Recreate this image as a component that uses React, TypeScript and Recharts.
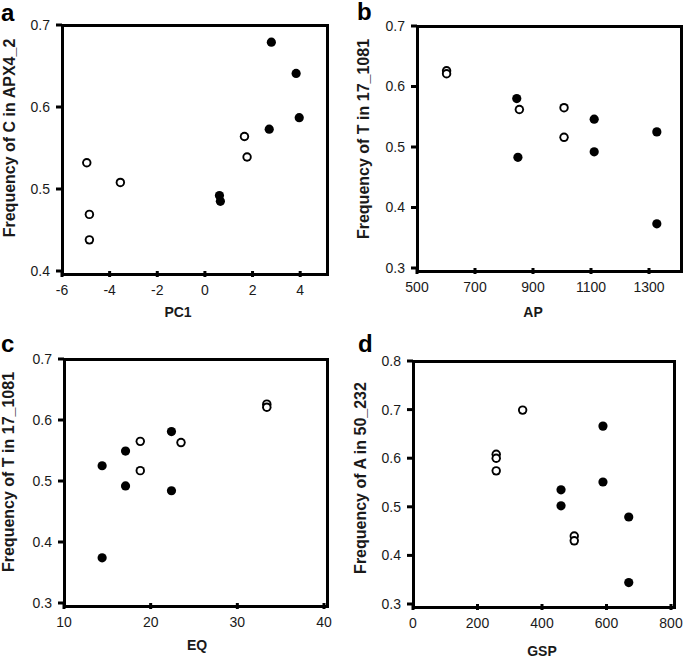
import React from "react";
import { ScatterChart, Scatter, XAxis, YAxis } from "recharts";

// ---------- data ----------
// Panel a: PC1 vs Frequency of C in APX4_2
const aOpenX = [-4.96, -4.85, -4.85, -3.55, 1.66, 1.77];
const aOpenY = [0.532, 0.469, 0.438, 0.508, 0.564, 0.539];
const aFilledX = [0.61, 0.65, 2.79, 3.83, 2.7, 3.96];
const aFilledY = [0.492, 0.485, 0.679, 0.641, 0.573, 0.587];
const aXTicks = [-6, -4, -2, 0, 2, 4];
const aYTicks = [0.4, 0.5, 0.6, 0.7];

// Panel b: AP vs Frequency of T in 17_1081
const bOpenX = [602, 602, 853, 1007, 1007];
const bOpenY = [0.626, 0.621, 0.562, 0.565, 0.516];
const bFilledX = [844, 848, 1111, 1111, 1327, 1327];
const bFilledY = [0.58, 0.483, 0.546, 0.492, 0.525, 0.373];
const bXTicks = [500, 700, 900, 1100, 1300];
const bYTicks = [0.3, 0.4, 0.5, 0.6, 0.7];

// Panel c: EQ vs Frequency of T in 17_1081
const cOpenX = [33.4, 33.4, 18.8, 18.8, 23.5];
const cOpenY = [0.626, 0.621, 0.565, 0.517, 0.563];
const cFilledX = [14.4, 14.4, 17.1, 17.1, 22.4, 22.4];
const cFilledY = [0.525, 0.374, 0.549, 0.492, 0.581, 0.484];
const cXTicks = [10, 20, 30, 40];
const cYTicks = [0.3, 0.4, 0.5, 0.6, 0.7];

// Panel d: GSP vs Frequency of A in 50_232
const dOpenX = [340, 258, 258, 258, 500, 500];
const dOpenY = [0.699, 0.608, 0.6, 0.574, 0.44, 0.43];
const dFilledX = [459, 459, 589, 589, 669, 669];
const dFilledY = [0.535, 0.502, 0.666, 0.551, 0.479, 0.344];
const dXTicks = [0, 200, 400, 600, 800];
const dYTicks = [0.3, 0.4, 0.5, 0.6, 0.7, 0.8];

const zip = (xs: number[], ys: number[]) => xs.map((x, i) => ({ x, y: ys[i] }));

const FONT = '"Liberation Sans", Arial, Helvetica, sans-serif';
const TEXT = "#1a1a1a";
const YW = 45;
const XH = 30;
const TICK_SIZE = 5;
const X_TICK_MARGIN = 9;
const Y_TICK_MARGIN = 7;
const FRAME_W = 3;
const TICK_W = 3;

const FilledDot = (props: any) => {
  const { cx, cy } = props;
  if (cx == null || cy == null) return null;
  return <circle cx={cx} cy={cy} r={4.6} fill="#000" />;
};
const OpenDot = (props: any) => {
  const { cx, cy } = props;
  if (cx == null || cy == null) return null;
  return (
    <g>
      <circle cx={cx} cy={cy} r={4.7} fill="#000" />
      <circle cx={cx} cy={cy} r={2.8} fill="#fff" />
    </g>
  );
};

const XTick = (props: any) => {
  const { x, y, payload } = props;
  const axisY = y - X_TICK_MARGIN - TICK_SIZE;
  return (
    <g>
      <path
        d={`M${x - TICK_W / 2},${axisY} h${TICK_W} v${TICK_SIZE + 1} h${-TICK_W} Z`}
        fill="#000"
      />
      <text
        x={x}
        y={y}
        dy="0.71em"
        textAnchor="middle"
        fontFamily={FONT}
        fontSize={14}
        fill={TEXT}
      >
        {String(payload.value)}
      </text>
    </g>
  );
};

const YTick = (props: any) => {
  const { x, y, payload } = props;
  const axisX = x + Y_TICK_MARGIN + TICK_SIZE;
  return (
    <g>
      <path
        d={`M${axisX},${y - TICK_W / 2} v${TICK_W} h${-(TICK_SIZE + 1)} v${-TICK_W} Z`}
        fill="#000"
      />
      <text
        x={x}
        y={y}
        dy="0.355em"
        textAnchor="end"
        fontFamily={FONT}
        fontSize={14}
        fill={TEXT}
      >
        {Number(payload.value).toFixed(1)}
      </text>
    </g>
  );
};

type PanelProps = {
  chart: [number, number, number, number]; // left, top, width, height
  plot: [number, number, number, number]; // left, top, right, bottom (absolute)
  xDomain: [number, number];
  yDomain: [number, number];
  xTicks: number[];
  yTicks: number[];
  open: { x: number; y: number }[];
  filled: { x: number; y: number }[];
};

const Panel = ({ chart, plot, xDomain, yDomain, xTicks, yTicks, open, filled }: PanelProps) => {
  const [cl, ct, cw, ch] = chart;
  const [pl, pt, pr, pb] = plot;
  const margin = {
    left: pl - cl - YW,
    top: pt - ct,
    right: cl + cw - pr,
    bottom: ct + ch - pb - XH,
  };
  return (
    <div style={{ position: "absolute", left: cl, top: ct, width: cw, height: ch }}>
      <div
        style={{
          position: "absolute",
          left: pl - cl - FRAME_W / 2,
          top: pt - ct - FRAME_W / 2,
          width: pr - pl,
          height: pb - pt,
          border: `${FRAME_W}px solid #000`,
          boxSizing: "content-box",
        }}
      />
      <div style={{ position: "absolute", left: 0, top: 0 }}>
        <ScatterChart width={cw} height={ch} margin={margin}>
          <XAxis
            type="number"
            dataKey="x"
            domain={xDomain}
            ticks={xTicks}
            interval={0}
            allowDataOverflow
            height={XH}
            tickSize={TICK_SIZE}
            tickMargin={X_TICK_MARGIN}
            axisLine={false}
            tickLine={false}
            tick={XTick}
          />
          <YAxis
            type="number"
            dataKey="y"
            domain={yDomain}
            ticks={yTicks}
            interval={0}
            allowDataOverflow
            width={YW}
            tickSize={TICK_SIZE}
            tickMargin={Y_TICK_MARGIN}
            axisLine={false}
            tickLine={false}
            tick={YTick}
          />
          <Scatter data={open} shape={OpenDot} isAnimationActive={false} />
          <Scatter data={filled} shape={FilledDot} isAnimationActive={false} />
        </ScatterChart>
      </div>
    </div>
  );
};

const YLabel = ({ x, y, text }: { x: number; y: number; text: string }) => (
  <text
    x={x}
    y={y}
    transform={`rotate(-90 ${x} ${y})`}
    textAnchor="middle"
    dominantBaseline="central"
    fontFamily={FONT}
    fontWeight="bold"
    fontSize={16}
    fill={TEXT}
  >
    {text}
  </text>
);

const XLabel = ({ x, y, text }: { x: number; y: number; text: string }) => (
  <text x={x} y={y} textAnchor="middle" fontFamily={FONT} fontWeight="bold" fontSize={14} fill={TEXT}>
    {text}
  </text>
);

const Letter = ({ x, y, text }: { x: number; y: number; text: string }) => (
  <text x={x} y={y} fontFamily={FONT} fontWeight="bold" fontSize={24} fill="#000">
    {text}
  </text>
);

export default function App() {
  return (
    <div
      style={{
        position: "absolute",
        left: 0,
        top: 0,
        width: 685,
        height: 658,
        background: "#fff",
        fontFamily: FONT,
      }}
    >
      <Panel
        chart={[0, 0, 342, 320]}
        plot={[62, 25, 324, 271]}
        xDomain={[-6, 5]}
        yDomain={[0.4, 0.7]}
        xTicks={aXTicks}
        yTicks={aYTicks}
        open={zip(aOpenX, aOpenY)}
        filled={zip(aFilledX, aFilledY)}
      />
      <Panel
        chart={[342, 0, 343, 320]}
        plot={[417, 26, 678, 268]}
        xDomain={[500, 1400]}
        yDomain={[0.3, 0.7]}
        xTicks={bXTicks}
        yTicks={bYTicks}
        open={zip(bOpenX, bOpenY)}
        filled={zip(bFilledX, bFilledY)}
      />
      <Panel
        chart={[0, 320, 342, 338]}
        plot={[64, 359, 324, 603]}
        xDomain={[10, 40]}
        yDomain={[0.3, 0.7]}
        xTicks={cXTicks}
        yTicks={cYTicks}
        open={zip(cOpenX, cOpenY)}
        filled={zip(cFilledX, cFilledY)}
      />
      <Panel
        chart={[342, 320, 343, 338]}
        plot={[413, 361, 671, 604]}
        xDomain={[0, 800]}
        yDomain={[0.3, 0.8]}
        xTicks={dXTicks}
        yTicks={dYTicks}
        open={zip(dOpenX, dOpenY)}
        filled={zip(dFilledX, dFilledY)}
      />
      <svg
        width={685}
        height={658}
        style={{ position: "absolute", left: 0, top: 0, pointerEvents: "none" }}
      >
        <Letter x={1} y={21} text="a" />
        <Letter x={357} y={20} text="b" />
        <Letter x={1} y={352} text="c" />
        <Letter x={358} y={352} text="d" />
        <YLabel x={9} y={138} text="Frequency of C in APX4_2" />
        <YLabel x={363} y={139} text="Frequency of T in 17_1081" />
        <YLabel x={8} y={472} text="Frequency of T in 17_1081" />
        <YLabel x={360} y={478} text="Frequency of A in 50_232" />
        <XLabel x={178} y={317} text="PC1" />
        <XLabel x={533} y={317} text="AP" />
        <XLabel x={197} y={650} text="EQ" />
        <XLabel x={542} y={656} text="GSP" />
      </svg>
    </div>
  );
}
